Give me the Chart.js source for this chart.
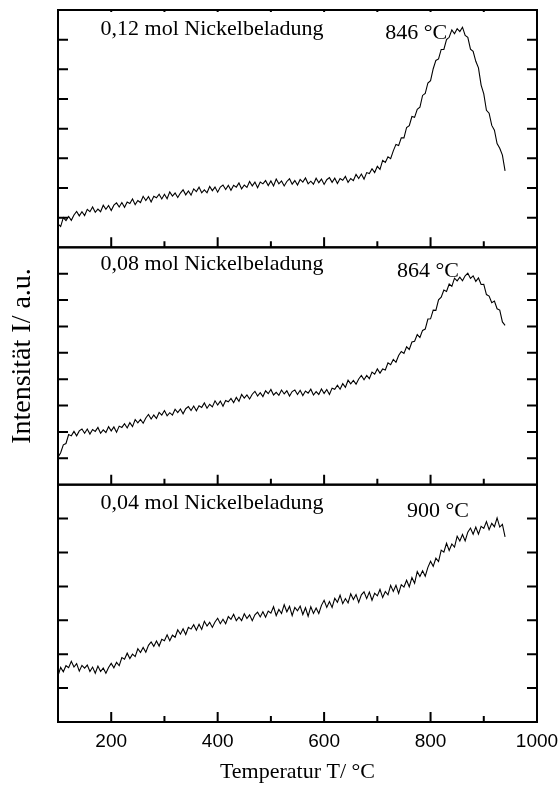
<!DOCTYPE html>
<html>
<head>
<meta charset="utf-8">
<script src="https://cdn.jsdelivr.net/npm/chart.js@4.4.0/dist/chart.umd.min.js"></script>
<style>
  body { margin: 0; background: #fff; }
  canvas { display: block; }
</style>
</head>
<body>
<canvas id="tprChart" width="558" height="787"></canvas>
<script>
// temperatures in °C
const temps = [100, 105, 110, 115, 120, 125, 130, 135, 140, 145,
  150, 155, 160, 165, 170, 175, 180, 185, 190, 195,
  200, 205, 210, 215, 220, 225, 230, 235, 240, 245,
  250, 255, 260, 265, 270, 275, 280, 285, 290, 295,
  300, 305, 310, 315, 320, 325, 330, 335, 340, 345,
  350, 355, 360, 365, 370, 375, 380, 385, 390, 395,
  400, 405, 410, 415, 420, 425, 430, 435, 440, 445,
  450, 455, 460, 465, 470, 475, 480, 485, 490, 495,
  500, 505, 510, 515, 520, 525, 530, 535, 540, 545,
  550, 555, 560, 565, 570, 575, 580, 585, 590, 595,
  600, 605, 610, 615, 620, 625, 630, 635, 640, 645,
  650, 655, 660, 665, 670, 675, 680, 685, 690, 695,
  700, 705, 710, 715, 720, 725, 730, 735, 740, 745,
  750, 755, 760, 765, 770, 775, 780, 785, 790, 795,
  800, 805, 810, 815, 820, 825, 830, 835, 840, 845,
  850, 855, 860, 865, 870, 875, 880, 885, 890, 895,
  900, 905, 910, 915, 920, 925, 930, 935, 940];

// intensity, a.u. (one panel each)
const ni012 = [0.79, 0.70, 1.00, 0.90, 1.04, 0.91, 1.09, 1.21, 1.06, 1.20,
  1.07, 1.28, 1.20, 1.36, 1.18, 1.29, 1.20, 1.42, 1.28, 1.41,
  1.24, 1.42, 1.50, 1.36, 1.51, 1.35, 1.53, 1.48, 1.63, 1.44,
  1.58, 1.51, 1.72, 1.58, 1.71, 1.53, 1.72, 1.67, 1.79, 1.63,
  1.79, 1.64, 1.87, 1.73, 1.83, 1.68, 1.83, 1.94, 1.77, 1.90,
  1.76, 1.97, 1.88, 2.03, 1.84, 1.94, 1.84, 2.05, 1.91, 2.03,
  1.86, 2.03, 2.10, 1.95, 2.09, 1.92, 2.09, 2.03, 2.17, 1.97,
  2.10, 2.02, 2.22, 2.07, 2.20, 2.01, 2.20, 2.14, 2.25, 2.08,
  2.24, 2.07, 2.30, 2.14, 2.24, 2.07, 2.22, 2.31, 2.13, 2.25,
  2.10, 2.29, 2.20, 2.34, 2.14, 2.23, 2.13, 2.33, 2.18, 2.30,
  2.12, 2.28, 2.35, 2.19, 2.33, 2.15, 2.32, 2.26, 2.39, 2.19,
  2.32, 2.25, 2.46, 2.32, 2.47, 2.30, 2.52, 2.49, 2.65, 2.52,
  2.73, 2.63, 2.93, 2.86, 3.05, 2.99, 3.25, 3.47, 3.43, 3.69,
  3.69, 4.04, 4.10, 4.41, 4.38, 4.65, 4.72, 5.12, 5.19, 5.54,
  5.62, 6.02, 6.30, 6.35, 6.67, 6.67, 7.00, 7.08, 7.33, 7.20,
  7.37, 7.27, 7.42, 7.14, 7.08, 6.68, 6.61, 6.27, 6.05, 5.47,
  5.17, 4.62, 4.52, 4.11, 3.95, 3.50, 3.34, 3.11, 2.58];

const ni008 = [1.04, 1.21, 1.51, 1.56, 1.90, 1.85, 2.02, 1.85, 2.04, 2.11,
  1.95, 2.11, 1.92, 2.09, 2.02, 2.17, 1.95, 2.08, 1.98, 2.20,
  2.04, 2.19, 1.99, 2.22, 2.17, 2.31, 2.15, 2.35, 2.20, 2.47,
  2.34, 2.47, 2.33, 2.53, 2.66, 2.49, 2.64, 2.51, 2.74, 2.64,
  2.81, 2.61, 2.73, 2.64, 2.86, 2.73, 2.87, 2.69, 2.88, 2.96,
  2.81, 2.98, 2.80, 2.99, 2.93, 3.10, 2.90, 3.05, 2.95, 3.18,
  3.02, 3.17, 2.97, 3.19, 3.14, 3.27, 3.11, 3.31, 3.16, 3.42,
  3.28, 3.40, 3.25, 3.43, 3.54, 3.36, 3.49, 3.34, 3.56, 3.45,
  3.61, 3.40, 3.50, 3.39, 3.59, 3.44, 3.56, 3.36, 3.53, 3.59,
  3.42, 3.58, 3.38, 3.55, 3.47, 3.62, 3.40, 3.53, 3.42, 3.63,
  3.46, 3.61, 3.42, 3.66, 3.62, 3.77, 3.62, 3.83, 3.69, 3.96,
  3.82, 3.95, 3.81, 4.01, 4.14, 3.98, 4.14, 4.02, 4.27, 4.19,
  4.39, 4.23, 4.39, 4.35, 4.62, 4.55, 4.75, 4.64, 4.90, 5.05,
  4.98, 5.23, 5.13, 5.41, 5.44, 5.69, 5.58, 5.85, 5.90, 6.28,
  6.29, 6.62, 6.61, 7.01, 7.11, 7.38, 7.33, 7.61, 7.52, 7.83,
  7.73, 7.87, 7.73, 7.92, 8.02, 7.82, 7.92, 7.71, 7.84, 7.59,
  7.60, 7.21, 7.15, 6.90, 6.96, 6.67, 6.62, 6.17, 6.04];

const ni004 = [1.36, 1.61, 1.48, 1.66, 1.60, 1.79, 1.62, 1.72, 1.50, 1.67,
  1.59, 1.68, 1.49, 1.62, 1.44, 1.65, 1.49, 1.59, 1.44, 1.61,
  1.73, 1.60, 1.76, 1.66, 1.90, 1.85, 2.03, 1.87, 2.00, 1.93,
  2.16, 2.05, 2.20, 2.06, 2.26, 2.36, 2.23, 2.39, 2.24, 2.44,
  2.40, 2.57, 2.40, 2.56, 2.50, 2.72, 2.59, 2.75, 2.58, 2.79,
  2.74, 2.87, 2.71, 2.88, 2.73, 2.97, 2.83, 2.94, 2.79, 2.95,
  3.06, 2.90, 3.03, 2.90, 3.11, 3.03, 3.18, 2.99, 3.09, 2.99,
  3.19, 3.05, 3.16, 2.99, 3.16, 3.24, 3.10, 3.25, 3.09, 3.27,
  3.21, 3.40, 3.14, 3.32, 3.20, 3.46, 3.25, 3.41, 3.14, 3.38,
  3.28, 3.42, 3.17, 3.37, 3.12, 3.40, 3.20, 3.36, 3.20, 3.44,
  3.59, 3.38, 3.55, 3.38, 3.65, 3.53, 3.74, 3.49, 3.64, 3.51,
  3.78, 3.61, 3.76, 3.53, 3.75, 3.84, 3.64, 3.83, 3.59, 3.80,
  3.72, 3.91, 3.67, 3.85, 3.75, 4.03, 3.85, 4.03, 3.79, 4.05,
  3.98, 4.18, 3.99, 4.26, 4.09, 4.44, 4.29, 4.46, 4.30, 4.56,
  4.74, 4.59, 4.83, 4.73, 5.07, 5.01, 5.27, 5.06, 5.25, 5.16,
  5.48, 5.34, 5.53, 5.34, 5.60, 5.72, 5.54, 5.75, 5.54, 5.77,
  5.71, 5.91, 5.67, 5.86, 5.76, 6.02, 5.75, 5.83, 5.46];

const panelNames = ["0,12 mol Nickelbeladung", "0,08 mol Nickelbeladung", "0,04 mol Nickelbeladung"];
const peakNames = ["846 °C", "864 °C", "900 °C"];

const serif = "'Liberation Serif', 'Times New Roman', serif";
const sans = "'Liberation Sans', Arial, sans-serif";

function series(vals) {
  return temps.map((t, i) => ({ x: t, y: vals[i] }));
}

function lineSet(label, vals, axis) {
  return {
    label: label,
    data: series(vals),
    yAxisID: axis,
    borderColor: "#000",
    borderWidth: 1.1,
    pointRadius: 0,
    tension: 0,
    fill: false,
  };
}

const hiddenY = (max, weight) => ({
  type: "linear",
  position: "left",
  stack: "tpr",
  stackWeight: 1,
  weight: weight,
  min: 0,
  max: max,
  ticks: { display: false },
  grid: { display: false, drawTicks: false },
  border: { display: false },
});

// frames, inner tick marks and the panel texts
const framePlugin = {
  id: "frames",
  afterDatasetsDraw(chart, args, opts) {
    const { ctx, chartArea, scales } = chart;
    const x = scales.x;
    const left = chartArea.left, right = chartArea.right;
    ctx.save();
    ctx.strokeStyle = "#000";
    ctx.fillStyle = "#000";
    ctx.lineWidth = 2;
    opts.panels.forEach((p, n) => {
      const y = scales[p.axis];
      const top = y.top, bottom = y.bottom;
      ctx.strokeRect(left, top, right - left, bottom - top);
      ctx.beginPath();
      for (let v = y.min + 1; v < y.max; v++) {
        const py = y.getPixelForValue(v);
        ctx.moveTo(left, py); ctx.lineTo(left + 10, py);
        ctx.moveTo(right, py); ctx.lineTo(right - 10, py);
      }
      for (let v = 200; v < x.max; v += 100) {
        const px = x.getPixelForValue(v);
        const len = v % 200 === 0 ? 10 : 6;
        ctx.moveTo(px, bottom); ctx.lineTo(px, bottom - len);
        if (n === 0) { ctx.moveTo(px, top); ctx.lineTo(px, top + 2); }
      }
      ctx.stroke();

      ctx.font = "22px " + serif;
      ctx.textBaseline = "alphabetic";
      ctx.textAlign = "left";
      ctx.fillText(p.name, x.getPixelForValue(p.nameAt), top + p.nameBase);
      ctx.textAlign = "center";
      ctx.fillText(p.peak, x.getPixelForValue(p.peakAt), top + p.peakBase);
    });

    ctx.font = "28px " + serif;
    ctx.textAlign = "center";
    ctx.textBaseline = "middle";
    ctx.translate(23, (chartArea.top + chartArea.bottom) / 2 - 10);
    ctx.rotate(-Math.PI / 2);
    ctx.fillText(opts.yTitle, 0, 0);
    ctx.restore();
  },
};

const ctx = document.getElementById("tprChart").getContext("2d");
const tprChart = new Chart(ctx, {
  type: "line",
  data: {
    datasets: [
      lineSet(panelNames[0], ni012, "yA"),
      lineSet(panelNames[1], ni008, "yB"),
      lineSet(panelNames[2], ni004, "yC"),
    ],
  },
  options: {
    responsive: false,
    animation: false,
    layout: { padding: { left: 58, right: 21, top: 10, bottom: 0 } },
    plugins: {
      legend: { display: false },
      tooltip: { enabled: false },
      frames: {
        yTitle: "Intensität I/ a.u.",
        panels: [
          { axis: "yA", name: panelNames[0], peak: peakNames[0], nameAt: 180, nameBase: 25, peakAt: 773, peakBase: 29 },
          { axis: "yB", name: panelNames[1], peak: peakNames[1], nameAt: 180, nameBase: 23, peakAt: 795, peakBase: 30 },
          { axis: "yC", name: panelNames[2], peak: peakNames[2], nameAt: 180, nameBase: 24, peakAt: 814, peakBase: 32 },
        ],
      },
    },
    scales: {
      x: {
        type: "linear",
        position: "bottom",
        min: 100,
        max: 1000,
        ticks: {
          stepSize: 200,
          includeBounds: false,
          autoSkip: false,
          maxRotation: 0,
          padding: 8,
          color: "#000",
          font: { family: sans, size: 19 },
          callback: (v) => String(v),
        },
        grid: { display: false, drawTicks: false },
        border: { display: false },
        title: {
          display: true,
          text: "Temperatur T/ °C",
          color: "#000",
          font: { family: serif, size: 22 },
          padding: { top: 2, bottom: 2 },
        },
        afterFit: (s) => {
          s.height = 65;
          s.paddingLeft = 0;
          s.paddingRight = 0;
        },
      },
      yA: hiddenY(8, 3),
      yB: hiddenY(9, 2),
      yC: hiddenY(7, 1),
    },
  },
  plugins: [framePlugin],
});
</script>
</body>
</html>
